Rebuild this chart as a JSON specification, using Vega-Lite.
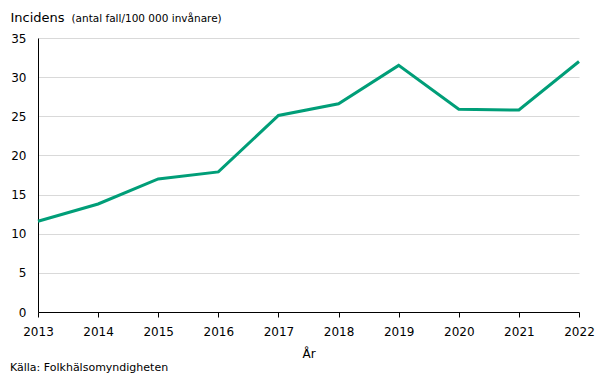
{
  "$schema": "https://vega.github.io/schema/vega-lite/v6.json",
  "width": 541,
  "height": 274,
  "autosize": {"type": "none"},
  "padding": {"left": 38, "top": 38, "right": 26, "bottom": 66},
  "background": "white",
  "config": {
    "view": {"stroke": null},
    "font": "DejaVu Sans",
    "axisX": {
      "title": "År",
      "titleFontSize": 12,
      "titleFontWeight": "normal",
      "titleColor": "#000000",
      "titlePadding": 11,
      "labelAngle": 0,
      "labelFontSize": 12,
      "labelColor": "#000000",
      "labelPadding": 9,
      "domainColor": "#000000",
      "tickColor": "#000000",
      "tickSize": 5,
      "grid": false
    }
  },
  "title": {
    "text": "Källa: Folkhälsomyndigheten",
    "orient": "bottom",
    "anchor": "start",
    "frame": "group",
    "dx": -28,
    "offset": 3,
    "fontSize": 11,
    "fontWeight": "normal",
    "color": "#000000",
    "font": "DejaVu Sans"
  },
  "data": {
    "values": [
      {"year": "2013", "value": 11.6},
      {"year": "2014", "value": 13.8},
      {"year": "2015", "value": 17.0},
      {"year": "2016", "value": 17.9},
      {"year": "2017", "value": 25.1},
      {"year": "2018", "value": 26.6},
      {"year": "2019", "value": 31.5},
      {"year": "2020", "value": 25.9},
      {"year": "2021", "value": 25.8},
      {"year": "2022", "value": 32.0}
    ]
  },
  "layer": [
    {
      "mark": {"type": "line", "color": "#009e78", "strokeWidth": 3},
      "encoding": {
        "x": {
          "field": "year",
          "type": "ordinal",
          "scale": {"type": "point", "padding": 0},
          "axis": {"title": "År"}
        },
        "y": {
          "field": "value",
          "type": "quantitative",
          "scale": {"domain": [0, 35], "nice": false},
          "axis": {
            "values": [0, 5, 10, 15, 20, 25, 30, 35],
            "title": "Incidens",
            "titleAngle": 0,
            "titleX": -28,
            "titleY": -17,
            "titleAlign": "left",
            "titleBaseline": "alphabetic",
            "titleFontSize": 13,
            "titleFontWeight": "normal",
            "titleColor": "#000000",
            "labelFontSize": 12,
            "labelColor": "#000000",
            "labelPadding": 12,
            "ticks": false,
            "domainColor": "#000000",
            "gridColor": "#d9d9d9"
          }
        }
      }
    },
    {
      "mark": {"type": "line", "opacity": 0},
      "encoding": {
        "x": {"field": "year", "type": "ordinal", "scale": {"type": "point", "padding": 0}, "axis": {"title": "År"}},
        "y": {
          "field": "value",
          "type": "quantitative",
          "axis": {
            "orient": "left",
            "labels": false,
            "ticks": false,
            "domain": false,
            "grid": false,
            "title": "(antal fall/100 000 invånare)",
            "titleAngle": 0,
            "titleX": 33,
            "titleY": -17,
            "titleAlign": "left",
            "titleBaseline": "alphabetic",
            "titleFontSize": 10.5,
            "titleFontWeight": "normal",
            "titleColor": "#000000"
          }
        }
      }
    }
  ],
  "resolve": {"axis": {"y": "independent"}}
}
